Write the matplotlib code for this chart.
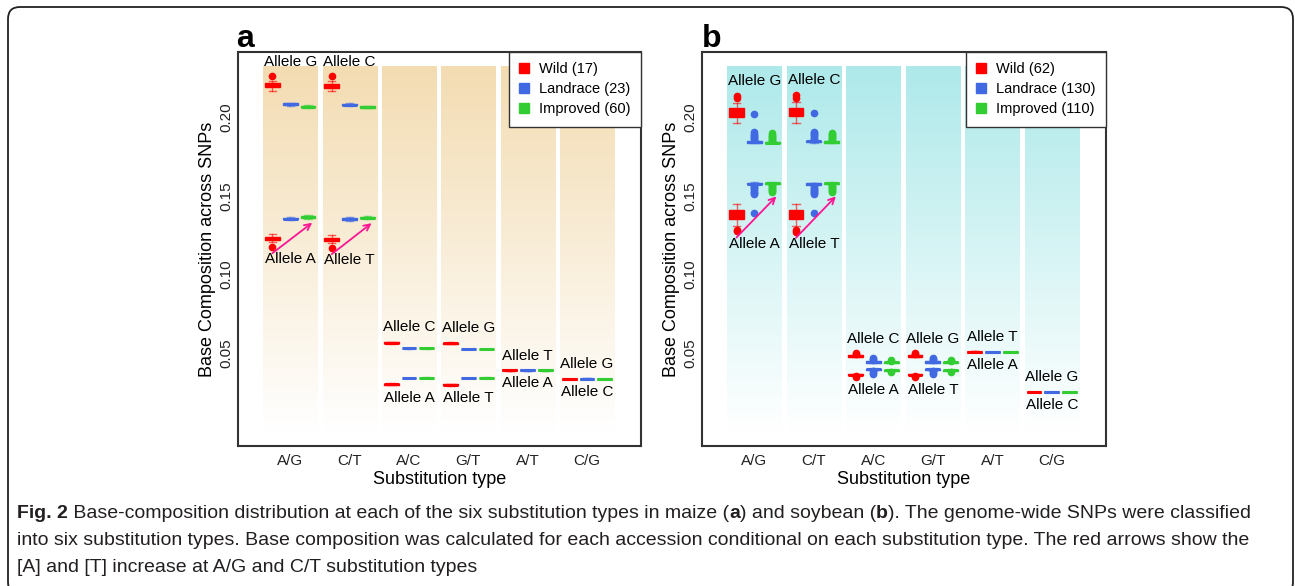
import numpy as np
import matplotlib
matplotlib.use("Agg")
import matplotlib.pyplot as plt
from matplotlib.colors import LinearSegmentedColormap
from matplotlib.lines import Line2D
from matplotlib.patches import FancyBboxPatch
from matplotlib.transforms import IdentityTransform

plt.rcParams['font.family'] = ['Liberation Sans', 'DejaVu Sans']

SUBS = ["A/G", "C/T", "A/C", "G/T", "A/T", "C/G"]
GROUPS = ["Wild", "Landrace", "Improved"]
COLORS = ["#FF0000", "#4169E1", "#32CD32"]
upper_alleles = ["G", "C", "C", "G", "T", "G"]
lower_alleles = ["A", "T", "A", "T", "A", "C"]

maize_n = [17, 23, 60]
soy_n = [62, 130, 110]

# box stats per substitution type: (whislo, q1, med, q3, whishi) for Wild, Landrace, Improved
maize_upper = [
    [(0.2172, 0.2192, 0.2206, 0.2219, 0.2232), (0.2076, 0.2082, 0.2086, 0.2090, 0.2096), (0.2062, 0.2066, 0.2070, 0.2074, 0.2080)],
    [(0.2170, 0.2190, 0.2204, 0.2217, 0.2230), (0.2072, 0.2078, 0.2082, 0.2086, 0.2092), (0.2059, 0.2063, 0.2067, 0.2071, 0.2077)],
    [(0.0559, 0.0562, 0.0565, 0.0568, 0.0571), (0.0528, 0.0529, 0.0529, 0.0530, 0.0531), (0.0528, 0.0529, 0.0529, 0.0530, 0.0531)],
    [(0.0557, 0.0560, 0.0563, 0.0566, 0.0569), (0.0525, 0.0526, 0.0526, 0.0527, 0.0528), (0.0523, 0.0524, 0.0524, 0.0525, 0.0526)],
    [(0.0388, 0.0389, 0.0389, 0.0390, 0.0390), (0.0388, 0.0389, 0.0389, 0.0390, 0.0390), (0.0388, 0.0389, 0.0389, 0.0390, 0.0390)],
    [(0.0335, 0.0336, 0.0336, 0.0337, 0.0337), (0.0333, 0.0335, 0.0336, 0.0337, 0.0339), (0.0335, 0.0336, 0.0336, 0.0337, 0.0337)],
]
maize_upper_fliers = [
    [[0.2262], [], []],
    [[0.2262], [], []],
    [[], [], []],
    [[], [], []],
    [[], [], []],
    [[], [], []],
]
maize_lower = [
    [(0.1205, 0.1217, 0.1228, 0.1240, 0.1255), (0.1345, 0.1351, 0.1355, 0.1359, 0.1366), (0.1355, 0.1362, 0.1366, 0.1370, 0.1377)],
    [(0.1200, 0.1212, 0.1222, 0.1233, 0.1250), (0.1343, 0.1349, 0.1353, 0.1357, 0.1364), (0.1352, 0.1358, 0.1362, 0.1366, 0.1373)],
    [(0.0294, 0.0297, 0.0300, 0.0303, 0.0306), (0.0339, 0.0340, 0.0340, 0.0341, 0.0342), (0.0341, 0.0342, 0.0342, 0.0343, 0.0344)],
    [(0.0292, 0.0295, 0.0298, 0.0301, 0.0304), (0.0339, 0.0340, 0.0340, 0.0341, 0.0342), (0.0341, 0.0342, 0.0342, 0.0343, 0.0344)],
    [(0.0388, 0.0389, 0.0389, 0.0390, 0.0390), (0.0388, 0.0389, 0.0389, 0.0390, 0.0390), (0.0388, 0.0389, 0.0389, 0.0390, 0.0390)],
    [(0.0335, 0.0336, 0.0336, 0.0337, 0.0337), (0.0333, 0.0335, 0.0336, 0.0337, 0.0339), (0.0335, 0.0336, 0.0336, 0.0337, 0.0337)],
]
maize_lower_fliers = [
    [[0.1176], [], []],
    [[0.1170], [], []],
    [[], [], []],
    [[], [], []],
    [[], [], []],
    [[], [], []],
]

soy_upper = [
    [(0.1964, 0.2005, 0.2032, 0.2058, 0.2096), (0.1838, 0.1841, 0.1845, 0.1849, 0.1855), (0.1835, 0.1838, 0.1841, 0.1845, 0.1850)],
    [(0.1966, 0.2008, 0.2036, 0.2062, 0.2100), (0.1841, 0.1845, 0.1849, 0.1853, 0.1859), (0.1838, 0.1841, 0.1845, 0.1849, 0.1854)],
    [(0.0474, 0.0477, 0.0482, 0.0485, 0.0489), (0.0436, 0.0439, 0.0443, 0.0446, 0.0450), (0.0435, 0.0438, 0.0440, 0.0442, 0.0445)],
    [(0.0474, 0.0477, 0.0482, 0.0485, 0.0489), (0.0436, 0.0439, 0.0443, 0.0446, 0.0450), (0.0435, 0.0438, 0.0440, 0.0442, 0.0445)],
    [(0.0506, 0.0507, 0.0508, 0.0509, 0.0510), (0.0507, 0.0508, 0.0508, 0.0508, 0.0509), (0.0507, 0.0508, 0.0508, 0.0508, 0.0509)],
    [(0.0248, 0.0249, 0.0250, 0.0251, 0.0252), (0.0248, 0.0249, 0.0250, 0.0251, 0.0252), (0.0248, 0.0249, 0.0250, 0.0251, 0.0252)],
]
soy_upper_fliers = [
    [[0.2125, 0.2140], [0.1862, 0.1869, 0.1876, 0.1883, 0.1890, 0.1897, 0.1905, 0.2025], [0.1857, 0.1864, 0.1871, 0.1878, 0.1885, 0.1892, 0.1899]],
    [[0.2128, 0.2145], [0.1866, 0.1873, 0.1880, 0.1887, 0.1894, 0.1901, 0.1909, 0.2028], [0.1861, 0.1868, 0.1875, 0.1882, 0.1889, 0.1896, 0.1903]],
    [[0.0494, 0.0500], [0.0456, 0.0463, 0.0470], [0.0450, 0.0455]],
    [[0.0494, 0.0500], [0.0456, 0.0463, 0.0470], [0.0450, 0.0455]],
    [[], [], []],
    [[], [], []],
]
soy_lower = [
    [(0.1308, 0.1355, 0.1382, 0.1410, 0.1452), (0.1570, 0.1574, 0.1578, 0.1582, 0.1588), (0.1572, 0.1576, 0.1580, 0.1584, 0.1589)],
    [(0.1306, 0.1353, 0.1380, 0.1408, 0.1450), (0.1568, 0.1572, 0.1576, 0.1580, 0.1586), (0.1572, 0.1576, 0.1580, 0.1584, 0.1589)],
    [(0.0355, 0.0358, 0.0362, 0.0365, 0.0368), (0.0388, 0.0391, 0.0395, 0.0398, 0.0402), (0.0385, 0.0387, 0.0390, 0.0393, 0.0395)],
    [(0.0355, 0.0358, 0.0362, 0.0365, 0.0368), (0.0388, 0.0391, 0.0395, 0.0398, 0.0402), (0.0385, 0.0387, 0.0390, 0.0393, 0.0395)],
    [(0.0506, 0.0507, 0.0508, 0.0509, 0.0510), (0.0507, 0.0508, 0.0508, 0.0508, 0.0509), (0.0507, 0.0508, 0.0508, 0.0508, 0.0509)],
    [(0.0248, 0.0249, 0.0250, 0.0251, 0.0252), (0.0248, 0.0249, 0.0250, 0.0251, 0.0252), (0.0248, 0.0249, 0.0250, 0.0251, 0.0252)],
]
soy_lower_fliers = [
    [[0.1285, 0.1276], [0.1563, 0.1556, 0.1549, 0.1542, 0.1535, 0.1528, 0.1520, 0.1512, 0.1393], [0.1565, 0.1558, 0.1551, 0.1544, 0.1537, 0.1530, 0.1523]],
    [[0.1283, 0.1274], [0.1561, 0.1554, 0.1547, 0.1540, 0.1533, 0.1526, 0.1518, 0.1510, 0.1392], [0.1565, 0.1558, 0.1551, 0.1544, 0.1537, 0.1530, 0.1523]],
    [[0.0352, 0.0346], [0.0382, 0.0375, 0.0368], [0.0380]],
    [[0.0352, 0.0346], [0.0382, 0.0375, 0.0368], [0.0380]],
    [[], [], []],
    [[], [], []],
]

caption = [
    [("Fig. 2", "bold"), (" Base-composition distribution at each of the six substitution types in maize (", "normal"),
     ("a", "bold"), (") and soybean (", "normal"), ("b", "bold"),
     ("). The genome-wide SNPs were classified", "normal")],
    [("into six substitution types. Base composition was calculated for each accession conditional on each substitution type. The red arrows show the", "normal")],
    [("[A] and [T] increase at A/G and C/T substitution types", "normal")],
]

W, H = 1295, 586
COL_TOP = 0.2325
OFFS = [-0.3, 0.0, 0.3]


def draw_panel(ax, upper, upper_fl, lower, lower_fl, counts, bg):
    xs = np.arange(len(SUBS))
    cmap = LinearSegmentedColormap.from_list("bg", ["white", bg])
    grad = np.linspace(0, 1, 256).reshape(-1, 1)
    for x in xs:
        ax.imshow(grad, extent=(x - 0.455, x + 0.455, 0, COL_TOP), origin="lower",
                  cmap=cmap, aspect="auto", zorder=0)

    for g in range(3):
        stats, pos = [], []
        for i in range(len(SUBS)):
            for rows, fl in ((upper, upper_fl), (lower, lower_fl)):
                lo, q1, med, q3, hi = rows[i][g]
                stats.append(dict(whislo=lo, q1=q1, med=med, q3=q3, whishi=hi, fliers=fl[i][g]))
                pos.append(xs[i] + OFFS[g])
        c = COLORS[g]
        ax.bxp(stats, positions=pos, widths=0.25, patch_artist=True, manage_ticks=False,
               boxprops=dict(facecolor=c, edgecolor=c, linewidth=1),
               medianprops=dict(color=c, linewidth=2.2),
               whiskerprops=dict(color=c, linewidth=1, alpha=0.6, linestyle="-"),
               capprops=dict(color=c, linewidth=1, alpha=0.6),
               flierprops=dict(marker="o", markerfacecolor=c, markeredgecolor=c, markersize=4.5),
               zorder=3)

    # allele labels just above / below each group of boxes
    for i in range(len(SUBS)):
        top = max(max(r[4] for r in upper[i]), max([max(f) for f in upper_fl[i] if f] or [0]))
        bot = min(min(r[0] for r in lower[i]), min([min(f) for f in lower_fl[i] if f] or [1]))
        ax.text(xs[i], top + 0.0092, "Allele " + upper_alleles[i], ha="center", va="center", fontsize=11, zorder=4)
        ax.text(xs[i], bot - 0.0080, "Allele " + lower_alleles[i], ha="center", va="center", fontsize=11, zorder=4)

    # arrows: wild -> improved on the A / T allele
    for i in (0, 1):
        w_min = min([lower[i][0][0]] + lower_fl[i][0])
        imp_min = min([lower[i][2][0]] + lower_fl[i][2])
        ax.annotate("", xy=(xs[i] + OFFS[2] + 0.07, imp_min - 0.0025),
                    xytext=(xs[i] + OFFS[0], w_min - 0.004),
                    arrowprops=dict(arrowstyle="->", color="#FF1493", lw=1.3, shrinkA=0, shrinkB=0,
                                    mutation_scale=11), zorder=5)

    handles = [Line2D([], [], ls="none", marker="s", ms=6.5, color=c) for c in COLORS]
    labels = [f"{g} ({n})" for g, n in zip(GROUPS, counts)]
    leg = ax.legend(handles, labels, loc="upper right", borderaxespad=0, fancybox=False,
                    edgecolor="#333333", framealpha=1, fontsize=10.5, handlelength=0.7,
                    handletextpad=0.7, borderpad=0.7, labelspacing=0.42)
    leg.get_frame().set_linewidth(1)
    leg.set_zorder(6)

    ax.set_xlim(-0.88, 5.91)
    ax.set_ylim(-0.0093, 0.2418)
    ax.set_xticks(xs)
    ax.set_xticklabels(SUBS, fontsize=11)
    ax.set_yticks([0.05, 0.10, 0.15, 0.20])
    ax.set_yticklabels(["0.05", "0.10", "0.15", "0.20"], fontsize=11, rotation=90, va="center")
    ax.tick_params(length=0, colors="#222222")
    ax.tick_params(axis="x", pad=6)
    ax.tick_params(axis="y", pad=3)
    for s in ax.spines.values():
        s.set_color("#333333")
        s.set_linewidth(1.5)
    ax.set_xlabel("Substitution type", fontsize=13, labelpad=2)
    ax.set_ylabel("Base Composition across SNPs", fontsize=13, labelpad=3)


fig = plt.figure(figsize=(W / 100, H / 100), dpi=100)
ax_a = fig.add_axes([238 / W, 1 - 446 / H, 403 / W, 394 / H])
ax_b = fig.add_axes([702 / W, 1 - 446 / H, 404 / W, 394 / H])

draw_panel(ax_a, maize_upper, maize_upper_fliers, maize_lower, maize_lower_fliers, maize_n, "#F3DCB2")
draw_panel(ax_b, soy_upper, soy_upper_fliers, soy_lower, soy_lower_fliers, soy_n, "#AEE9EA")

fig.text(236 / W, 1 - 47 / H, "a", fontsize=23, fontweight="bold", va="baseline")
fig.text(702 / W, 1 - 47 / H, "b", fontsize=23, fontweight="bold", va="baseline")

# caption, pieces chained one after another
cap_font = ["Liberation Sans Narrow", "Liberation Sans"]
for k, line in enumerate(caption):
    y = 1 - (518 + 27 * k) / H
    prev = None
    for txt, wt in line:
        if prev is None:
            prev = fig.text(17 / W, y, txt, fontsize=14, fontweight=wt, family=cap_font,
                            color="#231F20", va="baseline")
        else:
            prev = ax_a.annotate(txt, xy=(1, 0), xycoords=prev, va="bottom", ha="left",
                                 fontsize=14, fontweight=wt, family=cap_font, color="#231F20",
                                 annotation_clip=False)

border = FancyBboxPatch((8, -8), 1285, H - 7 + 8, boxstyle="round,pad=0,rounding_size=12",
                        transform=IdentityTransform(), fill=False, edgecolor="#222222", linewidth=1.3)
fig.patches.append(border)

fig.savefig("out.png", dpi=100)
